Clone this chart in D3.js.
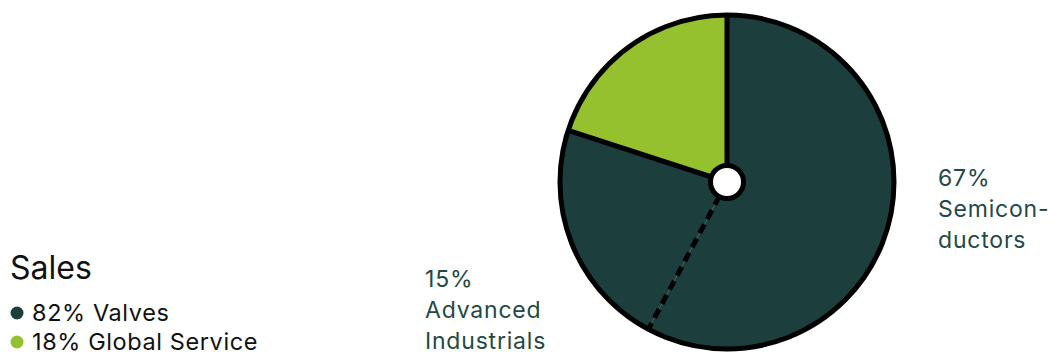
<!DOCTYPE html>
<html>
<head>
<meta charset="utf-8">
<script src="https://cdn.jsdelivr.net/npm/d3@7"></script>
<style>
  html, body { margin: 0; padding: 0; background: #fff; }
  svg { display: block; font-family: Inter, "Liberation Sans", sans-serif; }
</style>
</head>
<body>
<svg id="chart" width="1051" height="352"></svg>
<script>
// segments of the pie, clockwise from 12 o'clock
var segments = ["Semiconductors", "Advanced Industrials", "Global Service"];
var segmentPct = [67, 15, 18];          // printed percentages
var segmentShare = [57.8, 22.2, 20.0];  // share of the circle as drawn
var segmentGroup = ["Valves", "Valves", "Global Service"];

// legend
var groups = ["Valves", "Global Service"];
var groupPct = [82, 18];

var dark = "#1c3f3e",
  lime = "#95c12f",
  labelColor = "#1f4a45";

var color = d3.scaleOrdinal().domain(groups).range([dark, lime]);

var svg = d3.select("#chart");

var cx = 727, cy = 182, r = 167;

var pie = d3.pie().sort(null).value(function (d, i) { return segmentShare[i]; });
var arcs = pie(segments);
var arc = d3.arc().innerRadius(0).outerRadius(r);

var g = svg.append("g").attr("transform", "translate(" + cx + "," + cy + ")");

g.selectAll("path.slice")
  .data(arcs)
  .enter().append("path")
  .attr("class", "slice")
  .attr("d", arc)
  .attr("fill", function (d, i) { return color(segmentGroup[i]); });

// separators: solid between groups, dashed inside a group
g.selectAll("line.sep")
  .data(arcs)
  .enter().append("line")
  .attr("class", "sep")
  .attr("x1", 0).attr("y1", 0)
  .attr("x2", function (d) { return r * Math.sin(d.startAngle); })
  .attr("y2", function (d) { return -r * Math.cos(d.startAngle); })
  .attr("stroke", "#000")
  .attr("stroke-width", 5)
  .attr("stroke-dasharray", function (d, i) {
    var prev = (i + arcs.length - 1) % arcs.length;
    return segmentGroup[prev] === segmentGroup[i] ? "10,6" : null;
  });

g.append("circle")
  .attr("r", r)
  .attr("fill", "none")
  .attr("stroke", "#000")
  .attr("stroke-width", 5);

g.append("circle")
  .attr("r", 16.5)
  .attr("fill", "#fff")
  .attr("stroke", "#000")
  .attr("stroke-width", 5);

// slice labels
var labelPos = [[938, 186], [425, 287]];
var labelLines = [["Semicon-", "ductors"], ["Advanced", "Industrials"]];

labelPos.forEach(function (p, i) {
  var t = svg.append("text")
    .attr("x", p[0]).attr("y", p[1])
    .attr("fill", labelColor)
    .attr("font-size", 23)
    .attr("letter-spacing", 0.8);
  t.append("tspan").attr("x", p[0]).text(segmentPct[i] + "%");
  labelLines[i].forEach(function (line) {
    t.append("tspan").attr("x", p[0]).attr("dy", 31).text(line);
  });
});

// legend
svg.append("text")
  .attr("x", 10).attr("y", 279)
  .attr("font-size", 32)
  .attr("fill", "#111")
  .text("Sales");

var leg = svg.selectAll("g.leg")
  .data(groups)
  .enter().append("g")
  .attr("class", "leg")
  .attr("transform", function (d, i) { return "translate(0," + (321 + i * 29) + ")"; });

leg.append("circle")
  .attr("cx", 17).attr("cy", -8)
  .attr("r", 6.5)
  .attr("fill", function (d) { return color(d); });

leg.append("text")
  .attr("x", 32).attr("y", 0)
  .attr("font-size", 23.5)
  .attr("letter-spacing", 0.6)
  .attr("fill", "#111")
  .text(function (d, i) { return groupPct[i] + "% " + d; });
</script>
</body>
</html>
